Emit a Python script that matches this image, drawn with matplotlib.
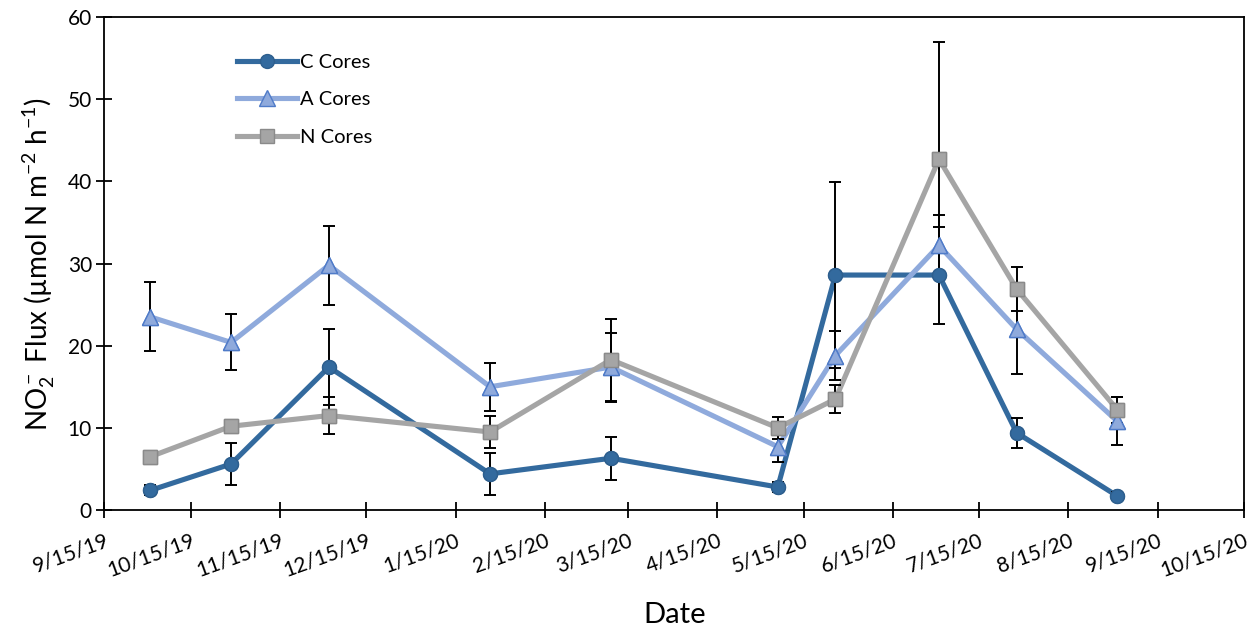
import datetime as dt
import matplotlib
matplotlib.use("Agg")
import matplotlib.pyplot as plt
import matplotlib.dates as mdates

plt.rcParams['font.family'] = ['Lato', 'DejaVu Sans']
plt.rcParams['mathtext.fontset'] = 'custom'
plt.rcParams['mathtext.rm'] = 'Lato'
plt.rcParams['mathtext.it'] = 'Lato:italic'

# sampling dates and mean fluxes with their error bars
dates = ["2019-10-01", "2019-10-29", "2019-12-02", "2020-01-27", "2020-03-09",
         "2020-05-06", "2020-05-26", "2020-07-01", "2020-07-28", "2020-09-01"]
c_cores = [2.4, 5.6, 17.4, 4.4, 6.3, 2.8, 28.6, 28.6, 9.4, 1.7]
c_err = [0.6, 2.5, 4.6, 2.6, 2.6, 0.6, 11.3, 5.9, 1.8, 0.5]
a_cores = [23.5, 20.4, 29.8, 15.0, 17.4, 7.7, 18.8, 32.2, 22.0, 10.8]
a_err = [4.2, 3.4, 4.8, 2.9, 4.2, 1.8, 3.0, 3.7, 5.4, 2.9]
n_cores = [6.5, 10.2, 11.5, 9.5, 18.3, 10.0, 13.5, 42.7, 26.9, 12.2]
n_err = [0.5, 0.6, 2.3, 1.9, 5.0, 1.3, 1.7, 14.3, 2.7, 1.6]

x = [dt.datetime.strptime(d, "%Y-%m-%d") for d in dates]

fig = plt.figure(figsize=(12.6, 6.32), dpi=100)
ax = fig.add_axes([0.0829, 0.193, 0.9044, 0.780])

series = [
    ("C Cores", c_cores, c_err, "#336A9E", "#2E5F8E", "o", 10),
    ("A Cores", a_cores, a_err, "#8FAADC", "#4F7BC8", "^", 11),
    ("N Cores", n_cores, n_err, "#A5A5A5", "#8A8A8A", "s", 10),
]

for name, y, err, col, edge, mk, ms in series:
    ax.plot(x, y, color=col, lw=3.7, marker=mk, ms=ms, mfc=col, mec=edge,
            mew=1, label=name, zorder=2)
    ax.errorbar(x, y, yerr=err, fmt="none", ecolor="black", elinewidth=1.4,
                capsize=4, capthick=1.4, zorder=3)
    ax.plot(x, y, ls="none", marker=mk, ms=ms, mfc=col, mec=edge, mew=1,
            zorder=4)

ax.set_xlim(dt.datetime(2019, 9, 15), dt.datetime(2020, 10, 15))
ax.set_ylim(0, 60)
ax.set_yticks(range(0, 61, 10))
ax.xaxis.set_major_locator(mdates.MonthLocator(bymonthday=15))
ax.xaxis.set_major_formatter(
    matplotlib.ticker.FuncFormatter(
        lambda v, p: "{d.month}/{d.day}/{y}".format(
            d=mdates.num2date(v), y=mdates.num2date(v).strftime("%y"))))

for lbl in ax.get_xticklabels():
    lbl.set_rotation(20)
    lbl.set_ha("right")
    lbl.set_rotation_mode("anchor")

ax.tick_params(axis="both", direction="inout", length=11, width=1.3,
               labelsize=15, color="black")
ax.tick_params(axis="x", pad=9)
for s in ax.spines.values():
    s.set_linewidth(1.3)

ax.set_xlabel("Date", fontsize=21, labelpad=16)
ax.set_ylabel(r"NO$_2^-$ Flux (µmol N m$^{-2}$ h$^{-1}$)", fontsize=20,
              labelpad=8)

ax.legend(loc="upper left", bbox_to_anchor=(0.116, 0.925), frameon=False,
          fontsize=14.5, handlelength=3.0, handletextpad=0.15,
          labelspacing=1.0, borderaxespad=0, borderpad=0)

fig.savefig("out.png", dpi=100)
